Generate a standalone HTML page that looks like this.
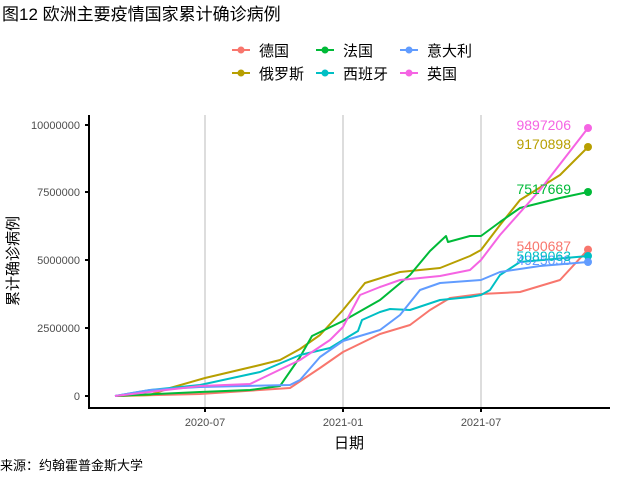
<!DOCTYPE html>
<html><head><meta charset="utf-8"><style>
body{margin:0;background:#fff;}
svg text{font-family:"Liberation Sans","Noto Sans CJK SC",sans-serif;}
</style></head><body>
<svg width="640" height="480" xmlns="http://www.w3.org/2000/svg">
<rect width="640" height="480" fill="#fff"/>
<text x="2" y="20" font-size="17" fill="#000">图12 欧洲主要疫情国家累计确诊病例</text>
<!-- legend -->
<g font-size="15" fill="#000" stroke-width="2">
<line x1="232" y1="50" x2="250" y2="50" stroke="#F8766D"/><circle cx="241" cy="50" r="3.5" fill="#F8766D"/><text x="259" y="56">德国</text>
<line x1="316" y1="50" x2="334" y2="50" stroke="#00BA38"/><circle cx="325" cy="50" r="3.5" fill="#00BA38"/><text x="343" y="56">法国</text>
<line x1="400" y1="50" x2="418" y2="50" stroke="#619CFF"/><circle cx="409" cy="50" r="3.5" fill="#619CFF"/><text x="427" y="56">意大利</text>
<line x1="232" y1="73" x2="250" y2="73" stroke="#B79F00"/><circle cx="241" cy="73" r="3.5" fill="#B79F00"/><text x="259" y="79">俄罗斯</text>
<line x1="316" y1="73" x2="334" y2="73" stroke="#00BFC4"/><circle cx="325" cy="73" r="3.5" fill="#00BFC4"/><text x="343" y="79">西班牙</text>
<line x1="400" y1="73" x2="418" y2="73" stroke="#F564E3"/><circle cx="409" cy="73" r="3.5" fill="#F564E3"/><text x="427" y="79">英国</text>
</g>
<!-- grid -->
<g stroke="#bbb" stroke-width="1">
<line x1="205" y1="115" x2="205" y2="408"/><line x1="343" y1="115" x2="343" y2="408"/><line x1="481" y1="115" x2="481" y2="408"/>
</g>
<!-- series -->
<g fill="none" stroke-width="2" stroke-linejoin="round">
<polyline stroke="#F8766D" points="115,396 200,394 290,388 320,368 343,352 380,334 410,325 430,310 450,298 481,294 520,292 560,280 588,249.6"/>
<polyline stroke="#B79F00" points="115,396 150,395 170,388 205,378 260,365 280,360 300,349 320,335 343,310 365,283 400,272 440,268 470,256 481,250 500,225 520,200 560,175 588,147"/>
<polyline stroke="#00BA38" points="115,396 200,392 250,390 280,386 300,357 312,336 343,321 380,300 410,275 430,251 446,236 448,242 470,236 481,236 500,222 520,208 560,198 588,192"/>
<polyline stroke="#00BFC4" points="115,396 150,390 200,385 260,372 300,355 330,348 343,340 358,331 362,320 380,312 390,309 410,310 440,300 470,297 481,295 490,290 500,275 520,262 588,256"/>
<polyline stroke="#619CFF" points="115,396 150,390 200,387 290,385 300,380 320,357 343,341 380,330 400,315 420,290 440,283 481,280 500,272 540,266 588,262"/>
<polyline stroke="#F564E3" points="115,396 200,386 250,384 300,360 330,340 343,327 360,295 380,287 400,280 440,276 470,270 481,260 500,235 540,190 588,128"/>
</g>
<circle cx="588" cy="249.6" r="4" fill="#F8766D"/>
<circle cx="588" cy="147" r="4" fill="#B79F00"/>
<circle cx="588" cy="192" r="4" fill="#00BA38"/>
<circle cx="588" cy="256" r="4" fill="#00BFC4"/>
<circle cx="588" cy="262" r="4" fill="#619CFF"/>
<circle cx="588" cy="128" r="4" fill="#F564E3"/>
<g font-size="14" text-anchor="end">
<text x="571" y="130" fill="#F564E3">9897206</text>
<text x="571" y="149" fill="#B79F00">9170898</text>
<text x="571" y="194" fill="#00BA38">7517669</text>
<text x="571" y="251" fill="#F8766D">5400687</text>
<text x="571" y="265" fill="#619CFF">4925058</text>
<text x="571" y="261" fill="#00BFC4">5089063</text>
</g>
<!-- axes -->
<g stroke="#000" stroke-width="2">
<line x1="89" y1="115" x2="89" y2="409"/><line x1="88" y1="408" x2="610" y2="408"/>
<line x1="85" y1="125" x2="89" y2="125"/><line x1="85" y1="192" x2="89" y2="192"/><line x1="85" y1="260" x2="89" y2="260"/><line x1="85" y1="328" x2="89" y2="328"/><line x1="85" y1="396" x2="89" y2="396"/>
<line x1="205" y1="408" x2="205" y2="412"/><line x1="343" y1="408" x2="343" y2="412"/><line x1="481" y1="408" x2="481" y2="412"/>
</g>
<g font-size="11" fill="#4d4d4d" text-anchor="end">
<text x="80" y="129">10000000</text><text x="80" y="196">7500000</text><text x="80" y="264">5000000</text><text x="80" y="332">2500000</text><text x="80" y="400">0</text>
</g>
<g font-size="11" fill="#4d4d4d" text-anchor="middle">
<text x="205" y="426">2020-07</text><text x="343" y="426">2021-01</text><text x="481" y="426">2021-07</text>
</g>
<text x="349" y="448" font-size="15" text-anchor="middle">日期</text>
<text transform="translate(18,261) rotate(-90)" font-size="15" text-anchor="middle">累计确诊病例</text>
<text x="0" y="470" font-size="13">来源：约翰霍普金斯大学</text>
</svg>
</body></html>
